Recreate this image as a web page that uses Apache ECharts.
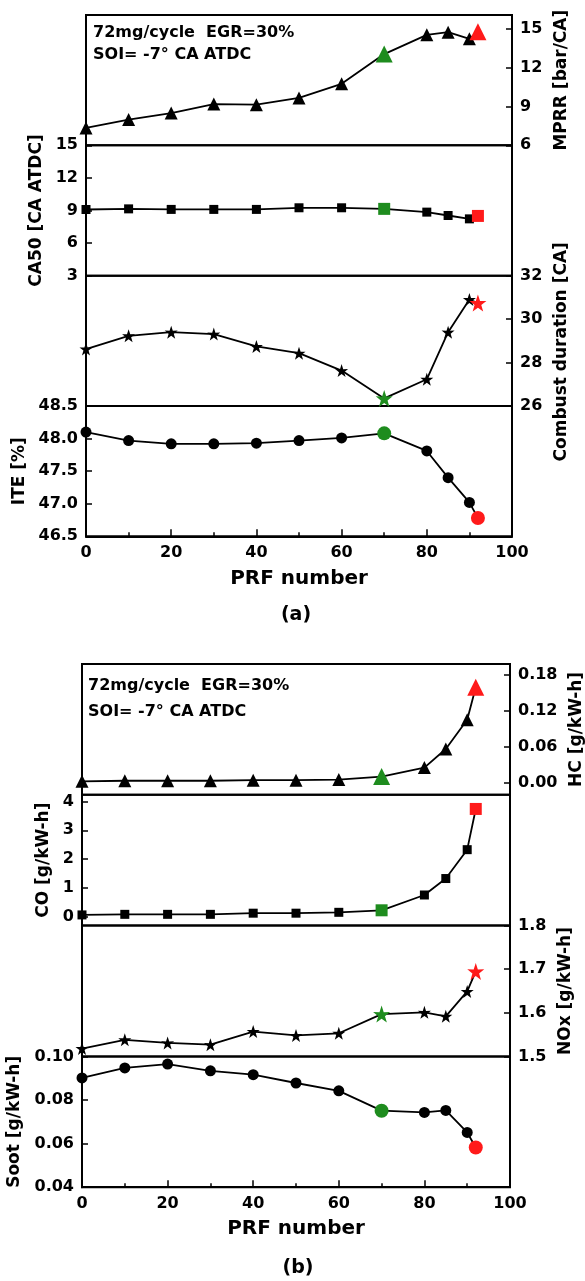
<!DOCTYPE html>
<html>
<head>
<meta charset="utf-8">
<script src="https://cdn.jsdelivr.net/npm/echarts@6/dist/echarts.min.js"></script>
<style>
html,body{margin:0;padding:0;background:#fff;}
#c{width:585px;height:1281px;}
</style>
</head>
<body>
<div id="c"></div>
<script>
// ---- data ----
const prf      = [0, 10, 20, 30, 40, 50, 60, 70, 80, 85, 90, 92];
const mprr     = [7.35, 8.0, 8.5, 9.2, 9.15, 9.67, 10.77, 13.07, 14.56, 14.77, 14.25, 14.8];
const ca50     = [9.09, 9.15, 9.1, 9.1, 9.1, 9.25, 9.25, 9.15, 8.85, 8.54, 8.23, 8.5];
const combust  = [28.62, 29.23, 29.4, 29.31, 28.74, 28.43, 27.63, 26.35, 27.23, 29.4, 30.9, 30.74];
const ite      = [48.1, 47.97, 47.92, 47.92, 47.93, 47.97, 48.01, 48.08, 47.81, 47.40, 47.02, 46.78];
const hc       = [0.002, 0.003, 0.003, 0.003, 0.004, 0.004, 0.005, 0.010, 0.025, 0.056, 0.105, 0.159];
const co       = [0.07, 0.09, 0.09, 0.09, 0.13, 0.13, 0.16, 0.23, 0.76, 1.33, 2.33, 3.74];
const nox      = [1.518, 1.538, 1.531, 1.527, 1.557, 1.548, 1.553, 1.597, 1.601, 1.592, 1.649, 1.695];
const soot     = [0.0901, 0.0947, 0.0965, 0.0934, 0.0916, 0.0878, 0.0842, 0.0751, 0.0743, 0.0752, 0.0651, 0.0582];
const greenIdx = 7;   // PRF 70 point
const redIdx   = 11;  // last point
const xTicks   = [0, 20, 40, 60, 80, 100];
const annot1   = '72mg/cycle  EGR=30%';
const annot2   = 'SOI= -7° CA ATDC';

const STAR = 'path://M50,0 L61.8,35.1 L97.6,34.5 L68.8,56 L79.4,90.5 L50,69.8 L20.6,90.5 L31.2,56 L2.4,34.5 L38.2,35.1 Z';
const FONT = 'DejaVu Sans';
const GREEN = '#1e8c1e', RED = '#ff1a1a';

const grids = [], xAxes = [], yAxes = [], series = [];

function addPanel(cfg) {
  const gi = grids.length;
  grids.push({left: cfg.left, right: cfg.right, top: cfg.top, height: cfg.height,
    show: true, borderColor: '#000', borderWidth: 2, backgroundColor: 'transparent',
    containLabel: false, outerBoundsMode: 'none'});
  const bottom = !!cfg.bottom;
  xAxes.push({
    gridIndex: gi, type: 'value', min: 0, max: 100, interval: 20,
    axisLine: {show: bottom, onZero: false, lineStyle: {color: '#000', width: 2}},
    axisTick: {show: bottom, inside: true, length: 7, lineStyle: {color: '#000', width: 1.5}},
    minorTick: {show: bottom, splitNumber: 2, length: 4, lineStyle: {color: '#000', width: 1.5}},
    axisLabel: {show: bottom, margin: 9, color: '#000', fontFamily: FONT, fontWeight: 'bold', fontSize: 16,
      customValues: xTicks},
    splitLine: {show: false},
    name: bottom ? 'PRF number' : '', nameLocation: 'middle', nameGap: 32,
    nameTextStyle: {color: '#000', fontFamily: FONT, fontWeight: 'bold', fontSize: 20}
  });
  const ya = {
    gridIndex: gi, type: 'value', position: cfg.pos, min: cfg.min, max: cfg.max,
    axisLine: {show: true, onZero: false, lineStyle: {color: '#000', width: 2}},
    axisTick: {show: true, inside: true, length: 6, lineStyle: {color: '#000', width: 1.5}},
    axisLabel: {margin: 8, color: '#000', fontFamily: FONT, fontWeight: 'bold', fontSize: 16,
      formatter: v => v.toFixed(cfg.dec)},
    splitLine: {show: false},
    name: cfg.name, nameLocation: 'middle', nameRotate: 90, nameGap: cfg.nameGap,
    nameTextStyle: {color: '#000', fontFamily: FONT, fontWeight: 'bold', fontSize: 17,
      padding: cfg.namePad || 0}
  };
  if (cfg.ticks) {
    ya.axisLabel.customValues = cfg.ticks;
    ya.axisTick.customValues = cfg.ticks;
  } else {
    ya.interval = cfg.interval;
  }
  yAxes.push(ya);
  const data = prf.map((x, i) => {
    const item = {value: [x, cfg.values[i]]};
    if (i === greenIdx) { item.itemStyle = {color: GREEN}; item.symbolSize = cfg.bigSize; }
    if (i === redIdx)   { item.itemStyle = {color: RED};   item.symbolSize = cfg.bigSize; }
    return item;
  });
  series.push({
    type: 'line', xAxisIndex: gi, yAxisIndex: gi, data: data,
    symbol: cfg.symbol, symbolSize: cfg.size, showAllSymbol: true,
    lineStyle: {color: '#000', width: 1.8},
    itemStyle: {color: '#000', borderWidth: 0},
    emphasis: {disabled: true}, animation: false, clip: false, z: 3
  });
}

// panel (a)
const aL = 86, aR = 585 - 512, aT = 15, aH = 130.33;
addPanel({left: aL, right: aR, top: aT,          height: aH, pos: 'right', min: 6,  max: 16.1, interval: 3, dec: 0,
  values: mprr, name: 'MPRR [bar/CA]', nameGap: 40, symbol: 'triangle', size: 13, bigSize: 17});
addPanel({left: aL, right: aR, top: aT + aH,     height: aH, pos: 'left',  min: 3,  max: 15,  interval: 3, dec: 0,
  values: ca50, name: 'CA50 [CA ATDC]', nameGap: 34, symbol: 'rect', size: 9, bigSize: 12});
addPanel({left: aL, right: aR, top: aT + 2 * aH, height: aH, pos: 'right', min: 26, max: 32,  interval: 2, dec: 0,
  values: combust, name: 'Combust duration [CA]', nameGap: 40, namePad: [0, 22, 0, 0], symbol: STAR, size: 13, bigSize: 17});
addPanel({left: aL, right: aR, top: aT + 3 * aH, height: aH, pos: 'left',  min: 46.5, max: 48.5, interval: 0.5, dec: 1,
  values: ite, name: 'ITE [%]', nameGap: 54, symbol: 'circle', size: 11, bigSize: 14, bottom: true});

// panel (b)
const bL = 82, bR = 585 - 510, bT = 664, bH = 130.8;
addPanel({left: bL, right: bR, top: bT,          height: bH, pos: 'right', min: -0.0205, max: 0.198, ticks: [0, 0.06, 0.12, 0.18], dec: 2,
  values: hc, name: 'HC [g/kW-h]', nameGap: 53, symbol: 'triangle', size: 13, bigSize: 17});
addPanel({left: bL, right: bR, top: bT + bH,     height: bH, pos: 'left',  min: -0.3, max: 4.23, ticks: [0, 1, 2, 3, 4], dec: 0,
  values: co, name: 'CO [g/kW-h]', nameGap: 26, symbol: 'rect', size: 9, bigSize: 12});
addPanel({left: bL, right: bR, top: bT + 2 * bH, height: bH, pos: 'right', min: 1.5, max: 1.8, interval: 0.1, dec: 1,
  values: nox, name: 'NOx [g/kW-h]', nameGap: 42, symbol: STAR, size: 13, bigSize: 17});
addPanel({left: bL, right: bR, top: bT + 3 * bH, height: bH, pos: 'left',  min: 0.04, max: 0.10, interval: 0.02, dec: 2,
  values: soot, name: 'Soot [g/kW-h]', nameGap: 59, symbol: 'circle', size: 11, bigSize: 14, bottom: true});

const textFont = 'bold 16px "DejaVu Sans"';
const subFont = 'bold 19px "DejaVu Sans"';
const graphic = [
  {type: 'text', x: 93, y: 33, style: {text: annot1, font: textFont, fill: '#000', verticalAlign: 'middle'}},
  {type: 'text', x: 93, y: 55, style: {text: annot2, font: textFont, fill: '#000', verticalAlign: 'middle'}},
  {type: 'text', x: 88, y: 686, style: {text: annot1, font: textFont, fill: '#000', verticalAlign: 'middle'}},
  {type: 'text', x: 88, y: 712, style: {text: annot2, font: textFont, fill: '#000', verticalAlign: 'middle'}},
  {type: 'text', x: 296, y: 615, style: {text: '(a)', font: subFont, fill: '#000', align: 'center', verticalAlign: 'middle'}},
  {type: 'text', x: 298, y: 1268, style: {text: '(b)', font: subFont, fill: '#000', align: 'center', verticalAlign: 'middle'}}
];

const chart = echarts.init(document.getElementById('c'), null, {renderer: 'canvas'});
chart.setOption({
  animation: false,
  backgroundColor: '#fff',
  grid: grids, xAxis: xAxes, yAxis: yAxes, series: series, graphic: graphic
});
</script>
</body>
</html>
